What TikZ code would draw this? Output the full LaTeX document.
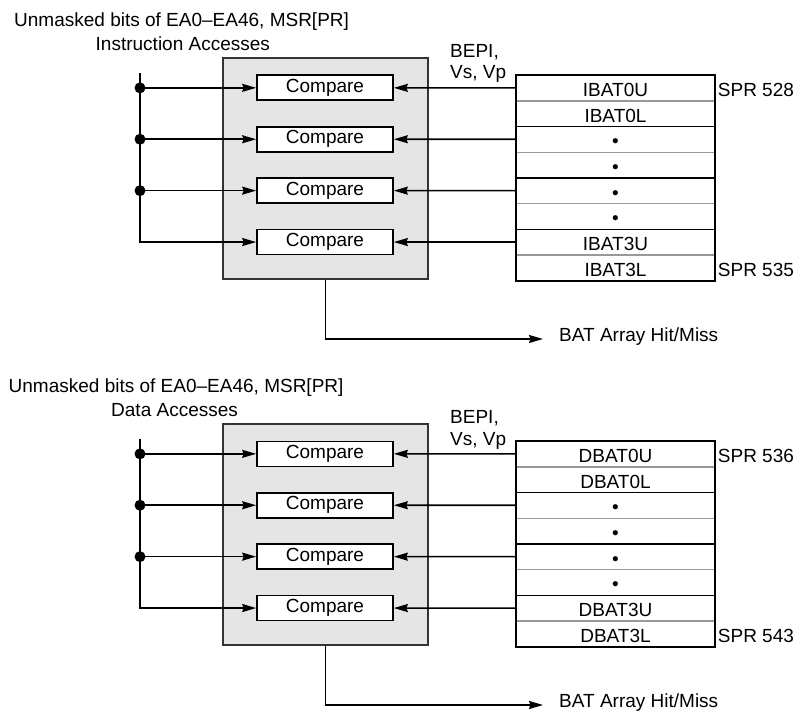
\documentclass[tikz,border=0pt]{standalone}
\usepackage{fontspec}
\setmainfont{Liberation Sans}
\usetikzlibrary{arrows.meta}
\definecolor{boxgray}{gray}{0.9}
\definecolor{sepgray}{gray}{0.6}
\definecolor{framegray}{gray}{0.2}
\tikzset{
  txt/.style={font=\fontsize{19}{22}\selectfont, inner sep=0pt},
  graybox/.style={draw=framegray, line width=1.9pt, fill=boxgray, minimum width=205pt, minimum height=221pt, inner sep=0pt},
  cmp/.style={txt, draw, line width=1.7pt, fill=white, minimum width=136pt, minimum height=25pt},
  regrow/.style={txt, minimum width=199pt, minimum height=25.7pt, text height=17.2pt, text depth=0pt},
  arr/.style={line width=1.6pt, -{Stealth[length=14pt,width=8pt,inset=1.5pt]}},
  wire/.style={line width=1.6pt},
  dot/.style={circle, fill, inner sep=0pt, minimum size=11pt},
}
% #1 prefix, #2 access text, #3 heading x, #4 access x, #5 reg letter, #6 first SPR, #7 last SPR, #8 y shift
\newcommand{\batpart}[8]{%
  \begin{scope}[shift={(0,#8)}]
    \node[txt, anchor=base west] (#1head) at (#3,26.5) {Unmasked bits of EA0–EA46, MSR[PR]};
    \node[txt, anchor=base west] (#1acc) at (#4,50.5) {#2};
    \node[graybox] (#1g) at (325.5,168.5) {};
    \foreach \i/\y in {1/87.85,2/139.25,3/190.65,4/242.05}{
      \node[cmp] (#1c\i) at (325,\y) {Compare};
      \coordinate (#1b\i) at (140,\y);
    }
    \foreach \k/\t in {1/#5BAT0U,2/#5BAT0L,3/•,4/•,5/•,6/•,7/#5BAT3U,8/#5BAT3L}{
      \node[regrow] (#1r\k) at (615.5,{75+25.7*(\k-0.5)}) {\t};
    }
    \foreach \k in {1,3,5,7}{
      \draw[line width=1.3pt, draw=sepgray] (#1r\k.south west) -- (#1r\k.south east);
    }
    \foreach \k in {2,4,6}{
      \draw[line width=1.5pt] (#1r\k.south west) -- (#1r\k.south east);
    }
    \draw[line width=1.5pt] (#1r1.north west) rectangle (#1r8.south east);
    \node[txt, anchor=base west] (#1spra) at ([xshift=2.5pt,yshift=-8.4pt]#1r1.east) {SPR #6};
    \node[txt, anchor=base west] (#1sprb) at ([xshift=2.5pt,yshift=-8.4pt]#1r8.east) {SPR #7};
    \node[txt, anchor=base west] (#1bepi) at (450,57.5) {BEPI,};
    \node[txt, anchor=base west] (#1vs) at (450,79) {Vs, Vp};
    \foreach \i/\k in {1/1,2/3,3/5,4/7}{
      \draw[arr] (#1r\k.west) -- (#1c\i.east);
    }
    \coordinate (#1top) at (140,73);
    \draw[arr] (#1top) -- (#1b4) -- (#1c4.west);
    \foreach \i in {1,2,3}{
      \node[dot] (#1d\i) at (#1b\i) {};
      \draw[arr] (#1d\i.center) -- (#1c\i.west);
    }
    \node[txt, anchor=base west] (#1hit) at (559,341.7) {BAT Array Hit/Miss};
    \coordinate (#1o) at (543,339);
    \draw[arr] (#1g.south) |- (#1o);
  \end{scope}%
}
\begin{document}
\begin{tikzpicture}[x=1pt,y=-1pt]
  \useasboundingbox (0,0) rectangle (797,711);
  \batpart{i}{Instruction Accesses}{14}{95.5}{I}{528}{535}{0}
  \batpart{d}{Data Accesses}{8.5}{111}{D}{536}{543}{366}
\end{tikzpicture}
\end{document}
